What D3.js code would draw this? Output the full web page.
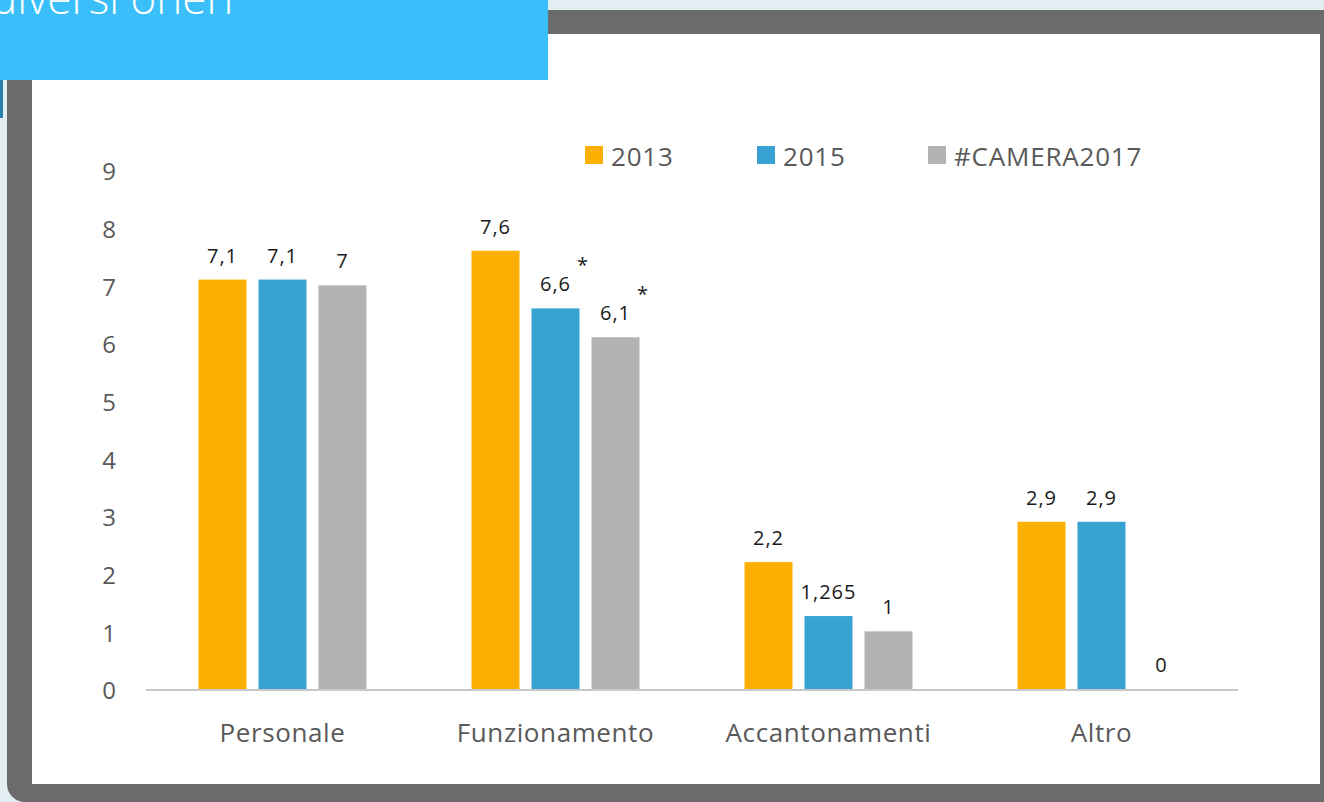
<!DOCTYPE html>
<html>
<head>
<meta charset="utf-8">
<script src="https://cdn.jsdelivr.net/npm/d3@7"></script>
<style>
  html, body { margin: 0; padding: 0; background: #e2eef2; }
  svg { display: block; font-family: 'Open Sans', sans-serif; }
</style>
</head>
<body>
<div id="chart"></div>
<script>
// data
const categories = ['Personale', 'Funzionamento', 'Accantonamenti', 'Altro'];
const seriesNames = ['2013', '2015', '#CAMERA2017'];
const values2013 = [7.1, 7.6, 2.2, 2.9];
const values2015 = [7.1, 6.6, 1.265, 2.9];
const valuesCamera = [7, 6.1, 1, 0];
const valueLabels = [
  ['7,1', '7,1', '7'],
  ['7,6', '6,6', '6,1'],
  ['2,2', '1,265', '1'],
  ['2,9', '2,9', '0']
];
const starred = [[false, false, false], [false, true, true], [false, false, false], [false, false, false]];
const yTicks = [0, 1, 2, 3, 4, 5, 6, 7, 8, 9];
const colors = ['#fbb003', '#38a3d3', '#b3b3b3'];

const W = 1324, H = 802;
const svg = d3.select('#chart')
  .append('svg')
  .attr('width', W)
  .attr('height', H);

// slide frame
svg.append('rect').attr('width', W).attr('height', H).attr('fill', '#e2eef2');
svg.append('rect')
  .attr('x', 7).attr('y', 10)
  .attr('width', W + 30).attr('height', 792)
  .attr('rx', 18)
  .attr('fill', '#6b6b6b');
svg.append('rect')
  .attr('x', 32).attr('y', 34)
  .attr('width', 1288).attr('height', 750)
  .attr('fill', '#ffffff');
svg.append('rect').attr('x', 0).attr('y', 80).attr('width', 3).attr('height', 38).attr('fill', '#2a7fa8');
svg.append('rect')
  .attr('x', 0).attr('y', 0)
  .attr('width', 548).attr('height', 80)
  .attr('fill', '#3bbffa');
svg.append('text')
  .attr('x', -9).attr('y', 14)
  .attr('fill', '#ffffff')
  .style('font-size', '44px')
  .style('font-weight', 300)
  .text('diversi oneri');

// scales
const x0 = d3.scaleBand()
  .domain(categories)
  .range([146, 1238]);
const x1 = d3.scaleBand()
  .domain(seriesNames)
  .range([-90, 90])
  .paddingInner(0.2)
  .paddingOuter(0.1);
const y = d3.scaleLinear()
  .domain([0, 9])
  .range([689, 170]);

// y axis labels
svg.append('g')
  .attr('transform', 'translate(116,2)')
  .call(d3.axisLeft(y).tickValues(yTicks).tickSize(0).tickPadding(0))
  .call(g => g.select('.domain').remove())
  .selectAll('text')
  .attr('fill', '#595959')
  .style('font-size', '24px')
  .style('font-family', "'Open Sans', sans-serif");

// bars
const rows = categories.map((c, i) => ({
  cat: c,
  vals: [values2013[i], values2015[i], valuesCamera[i]],
  labels: valueLabels[i],
  stars: starred[i]
}));

const groups = svg.selectAll('g.group')
  .data(rows)
  .enter()
  .append('g')
  .attr('class', 'group')
  .attr('transform', d => 'translate(' + (x0(d.cat) + x0.bandwidth() / 2) + ',0)');

groups.selectAll('rect')
  .data(d => d.vals.map((v, j) => ({ v: v, key: seriesNames[j], j: j })))
  .enter()
  .append('rect')
  .attr('x', d => x1(d.key))
  .attr('y', d => y(d.v))
  .attr('width', x1.bandwidth())
  .attr('height', d => y(0) - y(d.v))
  .attr('fill', d => colors[d.j]);

groups.selectAll('text.val')
  .data(d => d.vals.map((v, j) => ({ v: v, key: seriesNames[j], label: d.labels[j] })))
  .enter()
  .append('text')
  .attr('class', 'val')
  .attr('x', d => x1(d.key) + x1.bandwidth() / 2)
  .attr('y', d => y(d.v) - 17)
  .attr('text-anchor', 'middle')
  .attr('fill', '#1a1a1a')
  .style('font-size', '20px')
  .style('letter-spacing', '1px')
  .text(d => d.label);

groups.selectAll('text.star')
  .data(d => d.vals.map((v, j) => ({ v: v, key: seriesNames[j], star: d.stars[j] })).filter(d => d.star))
  .enter()
  .append('text')
  .attr('class', 'star')
  .attr('x', d => x1(d.key) + x1.bandwidth() / 2 + 27)
  .attr('y', d => y(d.v) - 36)
  .attr('text-anchor', 'middle')
  .attr('fill', '#1a1a1a')
  .style('font-size', '20px')
  .text('*');

// baseline
svg.append('line')
  .attr('x1', 146).attr('x2', 1238)
  .attr('y1', y(0) + 1).attr('y2', y(0) + 1)
  .attr('stroke', '#c8c8c8')
  .attr('stroke-width', 2);

// category labels
svg.append('g')
  .selectAll('text')
  .data(categories)
  .enter()
  .append('text')
  .attr('x', d => x0(d) + x0.bandwidth() / 2)
  .attr('y', 742)
  .attr('text-anchor', 'middle')
  .attr('fill', '#595959')
  .style('font-size', '26px')
  .style('letter-spacing', '0.6px')
  .text(d => d);

// legend
const legendX = [585, 757, 928];
const legend = svg.selectAll('g.legend')
  .data(seriesNames)
  .enter()
  .append('g')
  .attr('class', 'legend')
  .attr('transform', (d, i) => 'translate(' + legendX[i] + ',146)');
legend.append('rect')
  .attr('width', 18).attr('height', 18)
  .attr('fill', (d, i) => colors[i]);
legend.append('text')
  .attr('x', 26).attr('y', 20)
  .attr('fill', '#595959')
  .style('font-size', '26px')
  .style('letter-spacing', '0.8px')
  .text(d => d);
</script>
</body>
</html>
